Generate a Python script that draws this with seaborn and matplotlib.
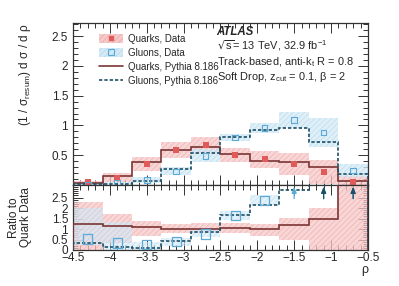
import numpy as np
import matplotlib
matplotlib.use("Agg")
import matplotlib.pyplot as plt
import seaborn as sns
import pandas as pd
from matplotlib.patches import Patch
from matplotlib.lines import Line2D

# ---------------- data ----------------
bin_edges = [-4.5, -4.1, -3.7, -3.3, -2.9, -2.5, -2.1, -1.7, -1.3, -0.9, -0.5]
quark_data = [0.045, 0.125, 0.35, 0.59, 0.665, 0.505, 0.43, 0.35, 0.22, 0.045]
quark_err = [0.025, 0.07, 0.12, 0.13, 0.145, 0.12, 0.14, 0.18, 0.2, 0.1]
quark_pythia = [0.033, 0.145, 0.39, 0.595, 0.645, 0.52, 0.41, 0.39, 0.31, 0.075]
gluon_data = [0.01, 0.03, 0.083, 0.23, 0.49, 0.795, 0.96, 1.09, 0.88, 0.24]
gluon_err = [0.012, 0.02, 0.05, 0.07, 0.11, 0.06, 0.08, 0.14, 0.24, 0.11]
gluon_pythia = [0.01, 0.025, 0.06, 0.27, 0.53, 0.81, 0.92, 0.955, 0.72, 0.18]

ratio_quark_pythia = [1.26, 1.15, 1.09, 1.01, 1.01, 1.06, 0.98, 1.17, 1.5, 3.5]
ratio_quark_lo = [0.0, 0.31, 0.66, 0.82, 0.82, 0.82, 0.66, 0.5, 0.0, 0.0]
ratio_quark_hi = [2.3, 1.74, 1.37, 1.25, 1.28, 1.3, 1.25, 1.53, 2.0, 3.5]
ratio_gluon_data = [0.53, 0.34, 0.26, 0.39, 0.77, 1.64, 2.37, 3.5, 4.0, 5.0]
ratio_gluon_lo = [0.26, 0.0, 0.0, 0.18, 0.6, 1.45, 2.17, 3.2, 3.5, 4.0]
ratio_gluon_hi = [2.0, 1.35, 0.4, 0.58, 0.98, 1.85, 2.6, 4.0, 4.5, 6.0]
ratio_gluon_pythia = [0.31, 0.13, 0.1, 0.45, 0.87, 1.69, 2.17, 2.88, 3.5, 4.0]

x_ticks = [-4.5, -4, -3.5, -3, -2.5, -2, -1.5, -1, -0.5]
main_yticks = [0.5, 1, 1.5, 2, 2.5]
ratio_yticks = [0, 0.5, 1, 1.5, 2, 2.5]

# ---------------- style ----------------
sns.set_theme(style="ticks")
plt.rcParams["font.family"] = ["Liberation Sans", "DejaVu Sans"]
plt.rcParams["mathtext.default"] = "regular"
plt.rcParams["hatch.linewidth"] = 0.4

RED = "#e05a5a"
RED_BAND = "#f6c9c9"
RED_HATCH = "#ec9c9c"
RED_LINE = "#7b3535"
BLUE = "#5aa9d6"
BLUE_BAND = "#d4eaf6"
BLUE_HATCH = "#a8d2ea"
TEAL = "#1e4f66"

edges = np.array(bin_edges)
centers = 0.5 * (edges[:-1] + edges[1:])
df = pd.DataFrame({
    "rho": centers,
    "quark_data": quark_data,
    "gluon_data": gluon_data,
    "ratio_gluon_data": ratio_gluon_data,
})

fig = plt.figure(figsize=(3.99, 2.86), dpi=100)
ax = fig.add_axes([0.183, 0.3531, 0.739, 0.5665])
rax = fig.add_axes([0.183, 0.1259, 0.739, 0.2272], sharex=ax)


def band(a, lo, hi, face, hatchc, alpha=0.75):
    a.stairs(np.array(hi), edges, baseline=np.array(lo), fill=True,
             facecolor=face, edgecolor=hatchc, hatch="//////", linewidth=0,
             alpha=alpha, zorder=1)


# ---- main panel ----
qd = np.array(quark_data); qe = np.array(quark_err)
gd = np.array(gluon_data); ge = np.array(gluon_err)
band(ax, qd - qe, qd + qe, RED_BAND, RED_HATCH)
band(ax, gd - ge, gd + ge, BLUE_BAND, BLUE_HATCH)
ax.stairs(quark_pythia, edges, color=RED_LINE, linewidth=1.2, zorder=3)
ax.stairs(gluon_pythia, edges, color=TEAL, linewidth=1.2, linestyle=(0, (2, 1.2)), zorder=3)
sns.scatterplot(data=df, x="rho", y="quark_data", ax=ax, marker="s", s=14,
                color=RED, edgecolor=RED, linewidth=0, zorder=4, legend=False)
sns.scatterplot(data=df, x="rho", y="gluon_data", ax=ax, marker="s", s=16,
                facecolor="none", edgecolor=BLUE, linewidth=0.8, zorder=4, legend=False)

ax.set_xlim(-4.5, -0.5)
ax.set_ylim(0, 2.72)
ax.set_yticks(main_yticks)
ax.set_yticklabels([f"{v:g}" for v in main_yticks])
ax.set_xlabel("")
ax.set_ylabel(r"(1 / σ$_{resum}$) d σ / d ρ", fontsize=8.5, ha="right", y=1.0)
ax.yaxis.set_label_coords(-0.135, 1.0)
plt.setp(ax.get_xticklabels(), visible=False)

h_qd = (Patch(facecolor=RED_BAND, edgecolor=RED_HATCH, hatch="//////", linewidth=0),
        Line2D([], [], marker="s", color=RED, linestyle="none", markersize=3.5))
h_gd = (Patch(facecolor=BLUE_BAND, edgecolor=BLUE_HATCH, hatch="//////", linewidth=0),
        Line2D([], [], marker="s", markerfacecolor="none", markeredgecolor=BLUE,
               linestyle="none", markersize=3.8, markeredgewidth=0.8))
h_qp = Line2D([], [], color=RED_LINE, linewidth=1.2)
h_gp = Line2D([], [], color=TEAL, linewidth=1.2, linestyle=(0, (2, 1.2)))
ax.legend([h_qd, h_gd, h_qp, h_gp],
          ["Quarks, Data", "Gluons, Data", "Quarks, Pythia 8.186", "Gluons, Pythia 8.186"],
          loc="upper left", bbox_to_anchor=(0.065, 0.975), frameon=False, fontsize=7.0,
          handlelength=2.5, handleheight=1.0, labelspacing=0.42, borderpad=0.2,
          handletextpad=0.45)

tx = 0.487
ax.text(tx, 0.944, "ATLAS", transform=ax.transAxes, fontsize=8.3, fontweight="bold",
        fontstyle="italic", va="center")
ax.text(tx, 0.858, r"$\sqrt{s}$= 13 TeV, 32.9 fb$^{-1}$", transform=ax.transAxes,
        fontsize=7.9, va="center")
ax.text(tx, 0.759, r"Track-based, anti-k$_{t}$ R = 0.8", transform=ax.transAxes,
        fontsize=7.9, va="center")
ax.text(tx, 0.667, r"Soft Drop, z$_{cut}$ = 0.1, β = 2", transform=ax.transAxes,
        fontsize=7.9, va="center")

# ---- ratio panel ----
RTOP = 3.1
band(rax, np.clip(ratio_quark_lo, 0, RTOP), np.clip(ratio_quark_hi, 0, RTOP), RED_BAND, RED_HATCH)
band(rax, np.clip(ratio_gluon_lo, 0, RTOP), np.clip(ratio_gluon_hi, 0, RTOP), BLUE_BAND, BLUE_HATCH, alpha=0.6)
rax.stairs(np.clip(ratio_quark_pythia, 0, RTOP + 0.2), edges, color=RED_LINE, linewidth=1.2, zorder=3)
rax.stairs(np.clip(ratio_gluon_pythia, 0, RTOP + 0.2), edges, color=TEAL, linewidth=1.2,
           linestyle=(0, (2, 1.2)), zorder=3)
sns.scatterplot(data=df[df["ratio_gluon_data"] <= RTOP], x="rho", y="ratio_gluon_data", ax=rax,
                marker="s", s=45, facecolor="none", edgecolor=BLUE, linewidth=0.9,
                zorder=4, legend=False)
rgd = np.array(ratio_gluon_data); rgp = np.array(ratio_gluon_pythia)
arrow_style = dict(arrowstyle="-|>,head_length=0.45,head_width=0.18", lw=0.9,
                   mutation_scale=8, shrinkA=0, shrinkB=0)
for c, v in zip(centers, rgd):
    if v > RTOP:
        rax.annotate("", xy=(c, 3.02), xytext=(c, 2.45),
                     arrowprops=dict(color=BLUE, **arrow_style), zorder=5)
for c, v in zip(centers, rgp):
    if v > RTOP:
        rax.annotate("", xy=(c, 3.02), xytext=(c, 2.45),
                     arrowprops=dict(color=TEAL, **arrow_style), zorder=6)

rax.set_ylim(0, RTOP)
rax.set_yticks(ratio_yticks)
rax.set_yticklabels([f"{v:g}" for v in ratio_yticks])
rax.set_xticks(x_ticks)
rax.set_xticklabels([f"{v:g}".replace("-", "\u2212") for v in x_ticks])
rax.set_xlabel("ρ", fontsize=9, ha="right", x=1.0, labelpad=0)
rax.set_ylabel("Ratio to\nQuark Data", fontsize=8.5, linespacing=0.95)
rax.yaxis.set_label_coords(-0.14, 0.5)

for a in (ax, rax):
    a.minorticks_on()
    a.xaxis.set_minor_locator(matplotlib.ticker.MultipleLocator(0.1))
    a.tick_params(which="both", direction="in", top=True, right=True, labelsize=8.5,
                  color="#333333", width=0.7)
    a.tick_params(which="major", length=7)
    a.tick_params(which="minor", length=3.5)
    for s in a.spines.values():
        s.set_linewidth(0.9)
        s.set_color("#333333")
ax.yaxis.set_minor_locator(matplotlib.ticker.MultipleLocator(0.1))
rax.yaxis.set_minor_locator(matplotlib.ticker.MultipleLocator(0.1))
rax.tick_params(axis="x", pad=1.5)

fig.savefig("out.png", dpi=100)
